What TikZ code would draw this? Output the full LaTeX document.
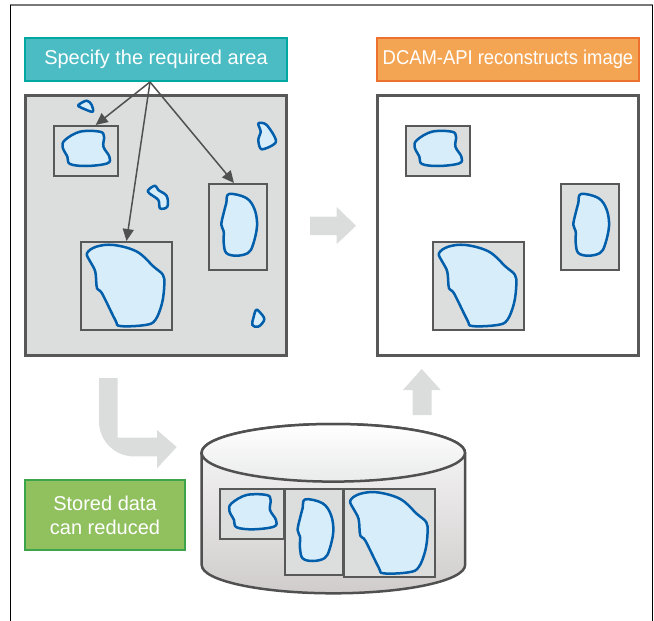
\documentclass[tikz,border=0pt]{standalone}
\usepackage{fontspec}
\setmainfont{Liberation Sans}
\usepackage{graphicx}
\usepackage{tikz}
\usetikzlibrary{positioning, arrows.meta, calc}
\definecolor{hmTeal}{RGB}{75, 188, 196}
\definecolor{hmTealEdge}{RGB}{0, 168, 160}
\definecolor{hmOrange}{RGB}{244, 165, 84}
\definecolor{hmOrangeEdge}{RGB}{237, 113, 47}
\definecolor{hmGreen}{RGB}{145, 192, 95}
\definecolor{hmGreenEdge}{RGB}{60, 165, 75}
\definecolor{hmGray}{RGB}{220, 221, 221}
\definecolor{hmEdge}{RGB}{88, 88, 88}
\definecolor{hmDark}{RGB}{80, 80, 80}
\definecolor{hmBlue}{RGB}{0, 94, 170}
\definecolor{hmIce}{RGB}{215, 237, 250}
\definecolor{hmArrow}{RGB}{219, 220, 220}
\definecolor{hmCylTop}{RGB}{250, 250, 250}
\definecolor{hmCylBot}{RGB}{208, 204, 204}
\tikzset{
    base/.style={
        font=\fontsize{20}{24}\selectfont,
        align=center,
        text=white
    },
    caption/.style={
        base,
        rectangle,
        line width=2pt,
        inner sep=0pt,
        minimum width=262pt,
        minimum height=43pt
    },
    frame/.style={
        rectangle,
        draw=hmEdge,
        line width=3pt,
        inner sep=0pt,
        minimum width=261pt,
        minimum height=260pt
    },
    region/.style={
        rectangle,
        draw=hmEdge,
        line width=2pt,
        fill=hmGray,
        inner sep=0pt,
        anchor=north west
    },
    sizeA/.style={region, minimum width=64pt, minimum height=50pt},
    sizeB/.style={region, minimum width=58pt, minimum height=86pt},
    sizeC/.style={region, minimum width=91pt, minimum height=88pt},
    blob/.style={
        draw=hmBlue,
        line width=2.5pt,
        fill=hmIce,
        line join=round
    },
    pointer/.style={
        -{Triangle[length=12pt, width=11pt]},
        line width=1.5pt,
        color=hmDark
    },
    bigarrow/.style={
        fill=hmArrow,
        draw=none
    },
    cyl/.style={
        draw=hmDark,
        line width=2.5pt
    },
    blobA/.pic={
        \path[blob] plot[smooth cycle, tension=0.6] coordinates {(12.3,15) (27.3,6.7) (47.3,6.7) (51.3,11.7) (50.7,21.7) (56.7,31.7) (54.7,38.3) (34,41) (17.3,39) (14.7,31.7) (10,22.3)};
    },
    blobB/.pic={
        \path[blob] plot[smooth cycle, tension=0.6] coordinates {(21,11) (38.3,15) (46.7,26.7) (49,43.3) (45,61.7) (40,70) (28.3,72.7) (18.3,70) (15.7,60) (15.7,48.3) (13.3,41.7) (15.7,30) (18.3,20)};
    },
    blobC/.pic={
        \path[blob] plot[smooth cycle, tension=0.6] coordinates {(7,12.3) (16.3,5.7) (33.7,4) (57,10.7) (73.7,25.7) (83,34) (84.3,44) (82,62.3) (75.3,79) (65.3,84) (40.3,85) (35.3,79) (22,52.3) (17,47.3) (15.3,30.7) (10.3,20.7)};
    }
}

\begin{document}
\begin{tikzpicture}[x=1pt, y=-1pt]
  \useasboundingbox (0,0) rectangle (654,621);

  % Outer frame
  \draw[hmEdge!80, line width=1.5pt] (10,5) -- (653,5);
  \draw[black, line width=1pt] (10.7,5) -- (10.7,621);
  \draw[black, line width=1pt] (652.3,5) -- (652.3,621);

  % Headings
  \node[caption, fill=hmTeal, draw=hmTealEdge] (specify) at (156,59.5) {Specify the required area};
  \node[caption, fill=hmOrange, draw=hmOrangeEdge] (rebuild) at (508,59.5) {\scalebox{0.92}[1]{DCAM-API reconstructs image}};

  % The full image
  \node[frame, fill=hmGray] (raw) at (156,225.5) {};
  \node[sizeA] (lA) at (52.7,125) {};
  \node[sizeB] (lB) at (208,183) {};
  \node[sizeC] (lC) at (80,241) {};
  \pic at (lA.north west) {blobA};
  \pic at (lB.north west) {blobB};
  \pic at (lC.north west) {blobC};
  \path[blob] plot[smooth cycle, tension=0.6] coordinates {(78.3,105) (86.7,100.7) (91.7,105) (92.7,111.7) (85,109.3) (80,107)};
  \path[blob] plot[smooth cycle, tension=0.5] coordinates {(258.3,123.3) (266.7,125) (276,141.7) (261.7,149.3) (258.3,140) (260.7,131.7)};
  \path[blob] plot[smooth cycle, tension=0.6] coordinates {(148.3,190) (155,185.7) (158.3,190) (166.7,196) (167.3,206.7) (160,208.3) (158.3,200) (149.3,193.3)};
  \path[blob] plot[smooth cycle, tension=0.6] coordinates {(256,310) (259.3,311.7) (264.3,319.3) (258.3,326.7) (252.3,325) (253.3,318.3)};

  % Selection
  \coordinate (fan) at (150,82);
  \draw[pointer] (fan) -- ($(lA.north)+(10,0)$);
  \draw[pointer] (fan) -- (lC.north);
  \draw[pointer] (fan) -- ($(lB.north)+(-4,0)$);

  % The rebuilt image
  \node[frame, fill=white] (out) at (507.5,225.5) {};
  \node[sizeA] (rA) at (404.7,125) {};
  \node[sizeB] (rB) at (560,183) {};
  \node[sizeC] (rC) at (432,241) {};
  \pic at (rA.north west) {blobA};
  \pic at (rB.north west) {blobB};
  \pic at (rC.north west) {blobC};

  % Flow arrows
  \path[bigarrow] (310,216.7) -- (336.7,216.7) -- (336.7,207) -- (356,225.8) -- (336.7,244) -- (336.7,235) -- (310,235) -- cycle;
  \path[bigarrow] (412.7,415) -- (412.7,390) -- (403,390) -- (421.7,369) -- (440.7,390) -- (431.7,390) -- (431.7,415) -- cycle;
  \path[bigarrow] (99,378) -- (99,421.4) arc[start angle=180, end angle=270, radius=35pt] -- (157,456.4) -- (157,468.3) -- (176.7,447) -- (157,430) -- (157,437.6) -- (117.7,437.6) -- (117.7,378) -- cycle;

  % Storage
  \draw[cyl, top color=hmCylTop, bottom color=hmCylBot] (201.7,452.8) -- (201.7,565) arc[start angle=180, end angle=360, x radius=131.7pt, y radius=28.3pt] -- (465,452.8) arc[start angle=0, end angle=180, x radius=131.7pt, y radius=28.8pt] -- cycle;
  \draw[cyl, top color=white, bottom color=hmGray!60] (333.3,452.8) ellipse[x radius=131.7pt, y radius=28.8pt];
  \node[sizeA] (sA) at (219.3,488.3) {};
  \node[sizeB] (sB) at (284.3,488.3) {};
  \node[sizeC] (sC) at (343.3,488.3) {};
  \pic at (sA.north west) {blobA};
  \pic at (sB.north west) {blobB};
  \pic at (sC.north west) {blobC};

  \node[base, rectangle, fill=hmGreen, draw=hmGreenEdge, line width=2pt, minimum width=160pt, minimum height=70pt] (reduced) at (105,515) {Stored data\\can reduced};
\end{tikzpicture}
\end{document}
